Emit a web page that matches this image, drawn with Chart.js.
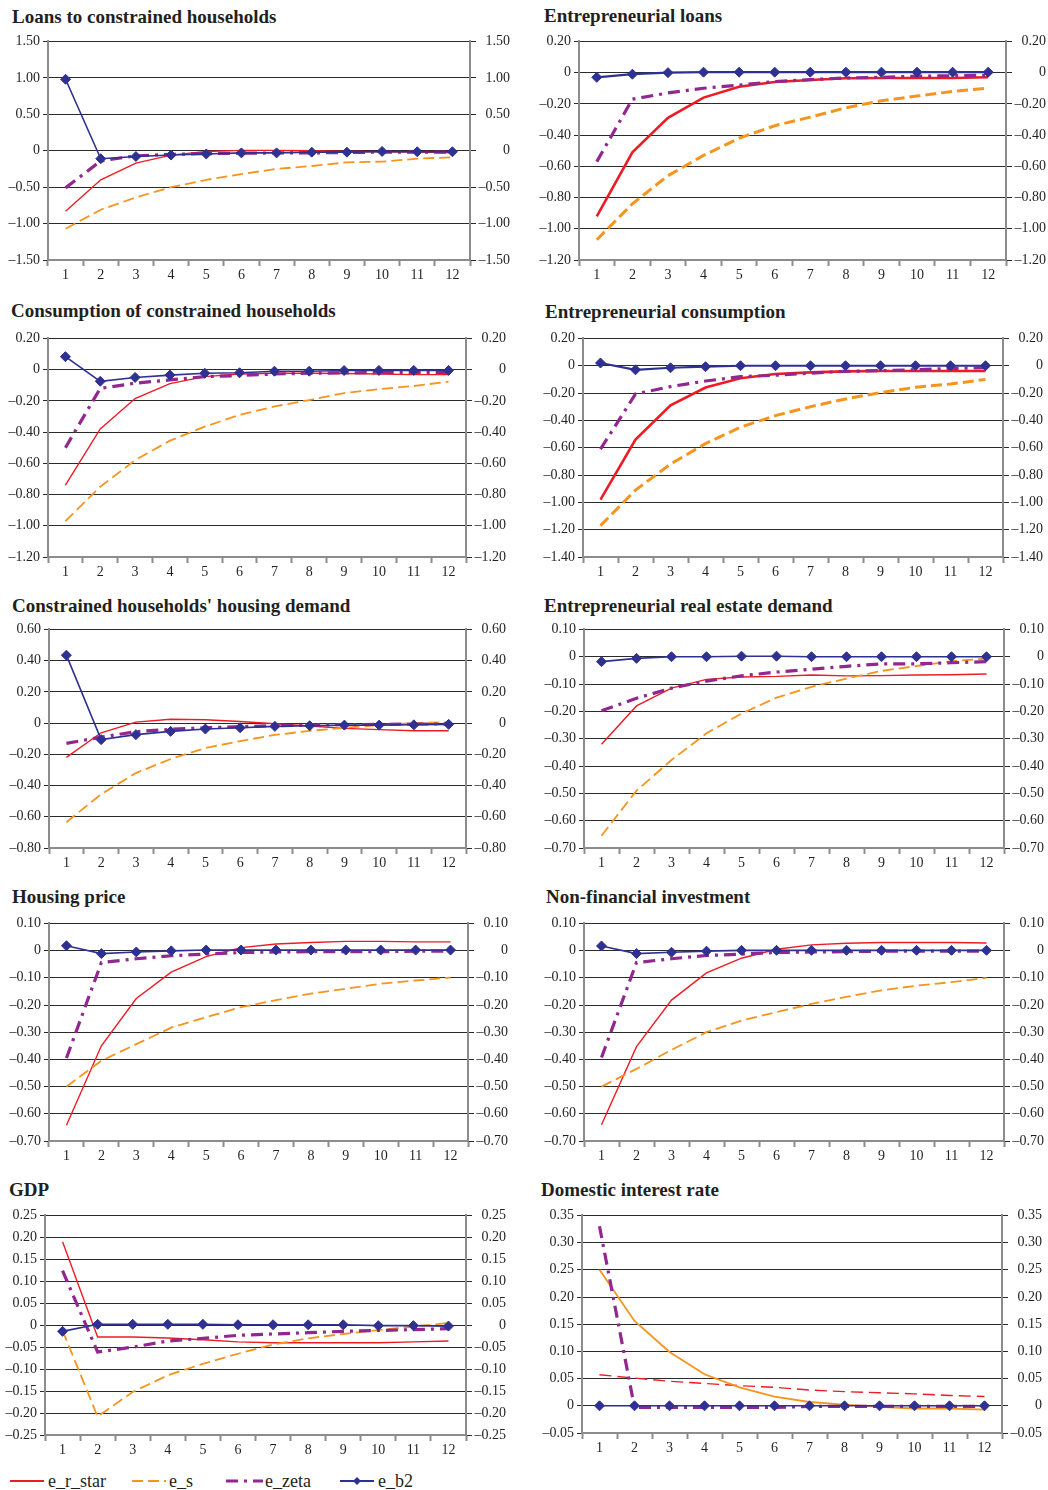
<!DOCTYPE html>
<html>
<head>
<meta charset="utf-8">
<script src="https://cdn.jsdelivr.net/npm/chart.js@4/dist/chart.umd.min.js"></script>
<style>
  html, body { margin: 0; padding: 0; background: #fff; }
  body { width: 1048px; height: 1490px; position: relative; overflow: hidden;
         font-family: "Liberation Serif", "DejaVu Serif", serif; color: #231f20; }
  .title { position: absolute; font-weight: bold; font-size: 19px; line-height: 22px; white-space: nowrap; }
  .panel { position: absolute; }
  #legend { position: absolute; left: 0; top: 1469px; }
</style>
</head>
<body>
<svg id="legend" width="500" height="24"></svg>
<script>
// Impulse responses, periods 1..12

const periods = ['1', '2', '3', '4', '5', '6', '7', '8', '9', '10', '11', '12'];
const seriesNames = ['e_r_star', 'e_s', 'e_zeta', 'e_b2'];

const panelTitles = [
  'Loans to constrained households', 'Entrepreneurial loans',
  'Consumption of constrained households', 'Entrepreneurial consumption',
  "Constrained households' housing demand", 'Entrepreneurial real estate demand',
  'Housing price', 'Non-financial investment',
  'GDP', 'Domestic interest rate'
];

// y axis range and tick step for each panel
const yMins  = [-1.5, -1.2, -1.2, -1.4, -0.8, -0.7, -0.7, -0.7, -0.25, -0.05];
const yMaxs  = [ 1.5,  0.2,  0.2,  0.2,  0.6,  0.1,  0.1,  0.1,  0.25,  0.35];
const ySteps = [ 0.5,  0.2,  0.2,  0.2,  0.2,  0.1,  0.1,  0.1,  0.05,  0.05];

// Loans to constrained households
const loansHhRStar = [-0.83, -0.40, -0.17, -0.06, -0.01, 0.005, 0.005, 0.0, -0.01, -0.015, -0.02, -0.03];
const loansHhS     = [-1.07, -0.81, -0.64, -0.50, -0.40, -0.32, -0.25, -0.21, -0.16, -0.15, -0.11, -0.09];
const loansHhZeta  = [-0.51, -0.14, -0.07, -0.05, -0.04, -0.035, -0.03, -0.03, -0.025, -0.02, -0.02, -0.02];
const loansHhB2    = [0.98, -0.11, -0.08, -0.06, -0.045, -0.03, -0.03, -0.02, -0.02, -0.01, -0.015, -0.015];

// Entrepreneurial loans
const entLoansRStar = [-0.92, -0.51, -0.29, -0.16, -0.09, -0.06, -0.047, -0.036, -0.034, -0.034, -0.034, -0.03];
const entLoansS     = [-1.07, -0.84, -0.66, -0.53, -0.42, -0.34, -0.285, -0.225, -0.18, -0.15, -0.12, -0.10];
const entLoansZeta  = [-0.57, -0.17, -0.13, -0.10, -0.08, -0.057, -0.045, -0.034, -0.03, -0.023, -0.02, -0.017];
const entLoansB2    = [-0.03, -0.01, 0, 0.003, 0.003, 0.003, 0.003, 0.003, 0.003, 0.003, 0.003, 0.003];

// Consumption of constrained households
const consHhRStar = [-0.74, -0.38, -0.185, -0.09, -0.045, -0.028, -0.023, -0.023, -0.025, -0.028, -0.032, -0.032];
const consHhS     = [-0.97, -0.75, -0.58, -0.455, -0.365, -0.29, -0.236, -0.195, -0.15, -0.125, -0.105, -0.077];
const consHhZeta  = [-0.50, -0.12, -0.087, -0.066, -0.045, -0.038, -0.028, -0.023, -0.021, -0.019, -0.017, -0.017];
const consHhB2    = [0.083, -0.075, -0.05, -0.035, -0.023, -0.02, -0.01, -0.01, -0.006, -0.005, -0.005, -0.005];

// Entrepreneurial consumption
const entConsRStar = [-0.98, -0.54, -0.29, -0.16, -0.092, -0.06, -0.049, -0.041, -0.039, -0.039, -0.039, -0.039];
const entConsS     = [-1.17, -0.91, -0.72, -0.57, -0.45, -0.365, -0.30, -0.243, -0.197, -0.158, -0.134, -0.10];
const entConsZeta  = [-0.61, -0.207, -0.153, -0.112, -0.08, -0.07, -0.054, -0.041, -0.036, -0.03, -0.02, -0.015];
const entConsB2    = [0.02, -0.03, -0.015, -0.007, 0, 0, 0, 0, 0, 0, 0, 0];

// Constrained households' housing demand
const housingHhRStar = [-0.22, -0.062, 0.006, 0.025, 0.021, 0.01, -0.004, -0.019, -0.034, -0.042, -0.049, -0.049];
const housingHhS     = [-0.635, -0.455, -0.32, -0.23, -0.16, -0.115, -0.076, -0.05, -0.03, -0.013, 0, 0.006];
const housingHhZeta  = [-0.13, -0.09, -0.055, -0.04, -0.03, -0.023, -0.017, -0.013, -0.01, -0.008, -0.006, -0.006];
const housingHhB2    = [0.435, -0.106, -0.074, -0.053, -0.038, -0.03, -0.021, -0.017, -0.013, -0.013, -0.011, -0.008];

// Entrepreneurial real estate demand
const entEstateRStar = [-0.32, -0.18, -0.115, -0.083, -0.074, -0.072, -0.067, -0.07, -0.069, -0.067, -0.066, -0.063];
const entEstateS     = [-0.655, -0.49, -0.378, -0.28, -0.208, -0.15, -0.11, -0.08, -0.052, -0.034, -0.016, -0.007];
const entEstateZeta  = [-0.198, -0.152, -0.115, -0.089, -0.07, -0.056, -0.046, -0.035, -0.026, -0.026, -0.022, -0.018];
const entEstateB2    = [-0.018, -0.006, 0, 0, 0.002, 0.002, 0, 0, 0, 0, 0, 0];

// Housing price
const housePriceRStar = [-0.642, -0.35, -0.176, -0.079, -0.022, 0.011, 0.024, 0.03, 0.034, 0.034, 0.032, 0.032];
const housePriceS     = [-0.50, -0.405, -0.344, -0.283, -0.245, -0.208, -0.182, -0.158, -0.14, -0.122, -0.11, -0.099];
const housePriceZeta  = [-0.395, -0.044, -0.03, -0.019, -0.013, -0.007, -0.005, -0.004, -0.004, -0.004, -0.002, -0.002];
const housePriceB2    = [0.018, -0.011, -0.005, -0.001, 0.002, 0.002, 0.002, 0.002, 0.002, 0.002, 0.002, 0.002];

// Non-financial investment
const investRStar = [-0.64, -0.353, -0.182, -0.082, -0.028, 0.005, 0.021, 0.027, 0.03, 0.03, 0.03, 0.028];
const investS     = [-0.50, -0.435, -0.365, -0.30, -0.257, -0.226, -0.196, -0.17, -0.146, -0.129, -0.116, -0.10];
const investZeta  = [-0.393, -0.044, -0.03, -0.018, -0.013, -0.007, -0.005, -0.004, -0.002, -0.002, -0.002, -0.002];
const investB2    = [0.017, -0.011, -0.006, -0.002, 0.001, 0.001, 0.001, 0.001, 0.001, 0.001, 0.001, 0.001];

// GDP
const gdpRStar = [0.19, -0.027, -0.027, -0.029, -0.033, -0.038, -0.04, -0.04, -0.04, -0.04, -0.038, -0.036];
const gdpS     = [-0.012, -0.208, -0.152, -0.114, -0.088, -0.065, -0.044, -0.03, -0.02, -0.011, -0.003, 0.005];
const gdpZeta  = [0.124, -0.061, -0.05, -0.036, -0.03, -0.023, -0.02, -0.017, -0.014, -0.012, -0.01, -0.008];
const gdpB2    = [-0.014, 0.002, 0.002, 0.002, 0.002, 0.001, 0.001, 0.001, 0.001, -0.001, -0.001, -0.002];

// Domestic interest rate
const rateRStar = [0.057, 0.051, 0.045, 0.041, 0.037, 0.034, 0.029, 0.026, 0.024, 0.022, 0.019, 0.017];
const rateS     = [0.25, 0.156, 0.099, 0.058, 0.034, 0.017, 0.007, 0.002, -0.002, -0.005, -0.005, -0.007];
const rateZeta  = [0.33, -0.003, -0.003, -0.003, -0.003, -0.003, -0.001, -0.001, -0.001, -0.001, -0.001, -0.001];
const rateB2    = [0, 0, 0, 0, 0, 0, 0, 0, 0, 0, 0, 0];

const panelSeries = [
  [loansHhRStar, loansHhS, loansHhZeta, loansHhB2],
  [entLoansRStar, entLoansS, entLoansZeta, entLoansB2],
  [consHhRStar, consHhS, consHhZeta, consHhB2],
  [entConsRStar, entConsS, entConsZeta, entConsB2],
  [housingHhRStar, housingHhS, housingHhZeta, housingHhB2],
  [entEstateRStar, entEstateS, entEstateZeta, entEstateB2],
  [housePriceRStar, housePriceS, housePriceZeta, housePriceB2],
  [investRStar, investS, investZeta, investB2],
  [gdpRStar, gdpS, gdpZeta, gdpB2],
  [rateRStar, rateS, rateZeta, rateB2]
];

// page layout: plot area [left, top, right, bottom] and title corner
const plotBoxes = [
  [48, 40, 470, 260], [579, 40, 1006, 260],
  [48, 337, 466, 557], [583, 337, 1003, 557],
  [49, 628, 466, 848], [584, 628, 1004, 848],
  [49, 922, 468, 1141], [584, 922, 1004, 1141],
  [45, 1214, 466, 1435], [582, 1214, 1002, 1433]
];
const titleSpots = [
  [12, 6], [544, 5], [11, 300], [545, 301], [12, 595],
  [544, 595], [12, 886], [546, 886], [9, 1179], [541, 1179]
];
const thickPanels = [1, 3];

const RED = '#ed1c24', ORANGE = '#f7941d', PURPLE = '#92278f', NAVY = '#2e3192';
const GRID = '#2a2a2a', AXIS = '#8c8c8c', TEXT = '#231f20';
const LW = 44, RW = 40, PT = 10, XH = 27;
const tickFont = { family: '"Liberation Serif", "DejaVu Serif", serif', size: 14 };

function fmtTick(v) {
  if (Math.abs(v) < 1e-9) return '0';
  return (v < 0 ? '\u2013' : '') + Math.abs(v).toFixed(2);
}

function tickList(i) {
  const out = [];
  const n = Math.round((yMaxs[i] - yMins[i]) / ySteps[i]);
  for (let k = 0; k <= n; k++) out.push(+(yMins[i] + k * ySteps[i]).toFixed(4));
  return out;
}

function buildPanel(i) {
  const [l, t, r, b] = plotBoxes[i];
  const title = document.createElement('div');
  title.className = 'title';
  title.textContent = panelTitles[i];
  title.style.left = titleSpots[i][0] + 'px';
  title.style.top = titleSpots[i][1] + 'px';
  document.body.appendChild(title);

  const canvas = document.createElement('canvas');
  canvas.className = 'panel';
  const w = r - l + LW + RW, h = b - t + PT + XH;
  canvas.width = w; canvas.height = h;
  canvas.style.left = (l - LW) + 'px';
  canvas.style.top = (t - PT) + 'px';
  canvas.style.width = w + 'px';
  canvas.style.height = h + 'px';
  document.body.appendChild(canvas);

  const thick = thickPanels.includes(i);
  const swap = i === 9; // interest rate panel: red dashed, orange solid
  const [rs, s, z, b2] = panelSeries[i];
  const ticks = tickList(i);
  const setTicks = sc => { sc.ticks = ticks.map(v => ({ value: v })); };

  const datasets = [
    { label: seriesNames[0], data: rs, borderColor: RED, borderWidth: thick ? 2.6 : 1.4,
      borderDash: swap ? [12, 6] : [], pointRadius: 0 },
    { label: seriesNames[1], data: s, borderColor: ORANGE, borderWidth: thick ? 3 : 1.8,
      borderDash: swap ? [] : [11, 5], pointRadius: 0 },
    { label: seriesNames[2], data: z, borderColor: PURPLE, borderWidth: 3.2,
      borderDash: [12, 6, 3, 6], pointRadius: 0 },
    { label: seriesNames[3], data: b2, borderColor: NAVY, borderWidth: thick ? 2.2 : 1.6,
      pointStyle: 'rectRot', pointRadius: 5, pointBackgroundColor: NAVY, pointBorderColor: NAVY,
      pointBorderWidth: 1 }
  ];
  // draw order: b2 on top
  datasets.forEach((d, k) => { d.fill = false; d.tension = 0; d.order = 4 - k; d.backgroundColor = d.borderColor; });

  new Chart(canvas, {
    type: 'line',
    data: { labels: periods, datasets },
    options: {
      responsive: false,
      animation: false,
      devicePixelRatio: 1,
      layout: { padding: { top: PT, left: 0, right: 0, bottom: 0 } },
      plugins: { legend: { display: false }, tooltip: { enabled: false } },
      scales: {
        x: {
          offset: true,
          grid: { offset: true, drawOnChartArea: false, drawTicks: true, tickLength: 6,
                  tickColor: AXIS, tickWidth: 2 },
          border: { color: AXIS, width: 2 },
          ticks: { font: tickFont, color: TEXT, padding: 1, maxRotation: 0, autoSkip: false },
          afterFit: sc => { sc.height = XH; }
        },
        y: {
          position: 'left', min: yMins[i], max: yMaxs[i],
          afterBuildTicks: setTicks,
          grid: { color: GRID, lineWidth: 1, tickLength: 5, tickColor: GRID },
          border: { color: AXIS, width: 2 },
          ticks: { font: tickFont, color: TEXT, padding: 3, callback: fmtTick },
          afterFit: sc => { sc.width = LW; }
        },
        y2: {
          position: 'right', min: yMins[i], max: yMaxs[i],
          afterBuildTicks: setTicks,
          grid: { drawOnChartArea: false, tickLength: 6, tickColor: GRID },
          border: { color: AXIS, width: 2 },
          ticks: { font: tickFont, color: TEXT, padding: 3, crossAlign: 'far', callback: fmtTick },
          afterFit: sc => { sc.width = RW; }
        }
      }
    }
  });
}

for (let i = 0; i < panelTitles.length; i++) buildPanel(i);

// legend along the bottom
const legendItems = [
  { x1: 10, x2: 44, tx: 48, color: RED, dash: '', width: 2.2 },
  { x1: 132, x2: 166, tx: 169, color: ORANGE, dash: '11 5', width: 2.2 },
  { x1: 226, x2: 263, tx: 265, color: PURPLE, dash: '12 6 3 6', width: 3.2 },
  { x1: 340, x2: 374, tx: 378, color: NAVY, dash: '', width: 2, marker: true }
];
const svg = document.getElementById('legend');
const ns = 'http://www.w3.org/2000/svg';
legendItems.forEach((it, k) => {
  const ln = document.createElementNS(ns, 'line');
  ln.setAttribute('x1', it.x1); ln.setAttribute('x2', it.x2);
  ln.setAttribute('y1', 12); ln.setAttribute('y2', 12);
  ln.setAttribute('stroke', it.color); ln.setAttribute('stroke-width', it.width);
  if (it.dash) ln.setAttribute('stroke-dasharray', it.dash);
  svg.appendChild(ln);
  if (it.marker) {
    const cx = (it.x1 + it.x2) / 2;
    const p = document.createElementNS(ns, 'polygon');
    p.setAttribute('points', `${cx},8 ${cx + 4},12 ${cx},16 ${cx - 4},12`);
    p.setAttribute('fill', it.color);
    svg.appendChild(p);
  }
  const tx = document.createElementNS(ns, 'text');
  tx.setAttribute('x', it.tx); tx.setAttribute('y', 18);
  tx.setAttribute('font-family', '"Liberation Serif", serif');
  tx.setAttribute('font-size', '18');
  tx.setAttribute('fill', TEXT);
  tx.textContent = seriesNames[k];
  svg.appendChild(tx);
});
</script>
</body>
</html>
